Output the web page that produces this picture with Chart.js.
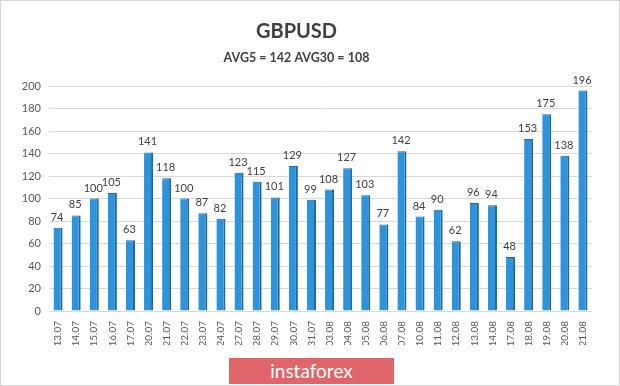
<!DOCTYPE html>
<html>
<head>
<meta charset="utf-8">
<script src="https://cdn.jsdelivr.net/npm/chart.js@4/dist/chart.umd.min.js"></script>
<style>
  html, body { margin: 0; padding: 0; background: #fff; }
  #wrap { position: relative; width: 620px; height: 386px; box-sizing: border-box; border: 1px solid #d6d6d6; }
  #chart { position: absolute; left: 0; top: 0; }
  #badge {
    position: absolute; left: 228px; top: 357px; width: 165px; height: 26px;
    background: #e0656a; color: #fff; font: 19px Lato, sans-serif;
    text-align: center; line-height: 25px;
  }
</style>
</head>
<body>
<div id="wrap">
  <canvas id="chart" width="618" height="384"></canvas>
  <div id="badge">instaforex</div>
</div>
<script>
const dates = ['13.07', '14.07', '15.07', '16.07', '17.07', '20.07', '21.07', '22.07', '23.07', '24.07',
  '27.07', '28.07', '29.07', '30.07', '31.07', '03.08', '04.08', '05.08', '06.08', '07.08',
  '10.08', '11.08', '12.08', '13.08', '14.08', '17.08', '18.08', '19.08', '20.08', '21.08'];
const ranges = [74, 85, 100, 105, 63, 141, 118, 100, 87, 82,
  123, 115, 101, 129, 99, 108, 127, 103, 77, 142,
  84, 90, 62, 96, 94, 48, 153, 175, 138, 196];
const titleText = 'GBPUSD';
const subtitleText = 'AVG5 = 142 AVG30 = 108';

// value labels above each bar
const valueLabels = {
  id: 'valueLabels',
  afterDatasetsDraw(chart) {
    const ctx = chart.ctx;
    const meta = chart.getDatasetMeta(0);
    ctx.save();
    ctx.font = '11px Lato, sans-serif';
    ctx.fillStyle = '#404040';
    ctx.textAlign = 'center';
    ctx.textBaseline = 'bottom';
    meta.data.forEach((bar, i) => {
      ctx.fillText(ranges[i], bar.x - 1, bar.y - 5);
    });
    ctx.restore();
  }
};

const ctx = document.getElementById('chart').getContext('2d');
new Chart(ctx, {
  type: 'bar',
  data: {
    labels: dates,
    datasets: [{
      data: ranges,
      backgroundColor: '#2f93da',
      borderColor: '#1c68a6',
      borderWidth: { left: 0, right: 2, top: 1, bottom: 0 },
      borderSkipped: 'bottom',
      barPercentage: 0.5,
      categoryPercentage: 1
    }]
  },
  options: {
    responsive: false,
    animation: false,
    layout: { padding: { left: 0, right: 27, top: 0, bottom: 40 } },
    plugins: {
      legend: { display: false },
      tooltip: { enabled: false },
      title: {
        display: true,
        text: titleText,
        color: '#404040',
        font: { family: 'Lato, sans-serif', size: 20, weight: 'bold' },
        padding: { top: 19, bottom: 6 }
      },
      subtitle: {
        display: true,
        text: subtitleText,
        color: '#404040',
        font: { family: 'Lato, sans-serif', size: 12.5, weight: 'bold' },
        padding: { top: 0, bottom: 21 }
      }
    },
    scales: {
      x: {
        grid: { display: false },
        border: { display: false },
        ticks: {
          color: '#595959',
          font: { family: 'Lato, sans-serif', size: 10 },
          maxRotation: 90,
          minRotation: 90,
          autoSkip: false,
          padding: 2
        },
        afterFit(scale) { scale.height = 34; }
      },
      y: {
        min: 0,
        max: 200,
        ticks: {
          stepSize: 20,
          color: '#595959',
          font: { family: 'Lato, sans-serif', size: 11 },
          padding: 8
        },
        grid: { color: '#d9d9d9', drawTicks: false },
        border: { display: false },
        afterFit(scale) { scale.width = 48; }
      }
    }
  },
  plugins: [valueLabels]
});
</script>
</body>
</html>
